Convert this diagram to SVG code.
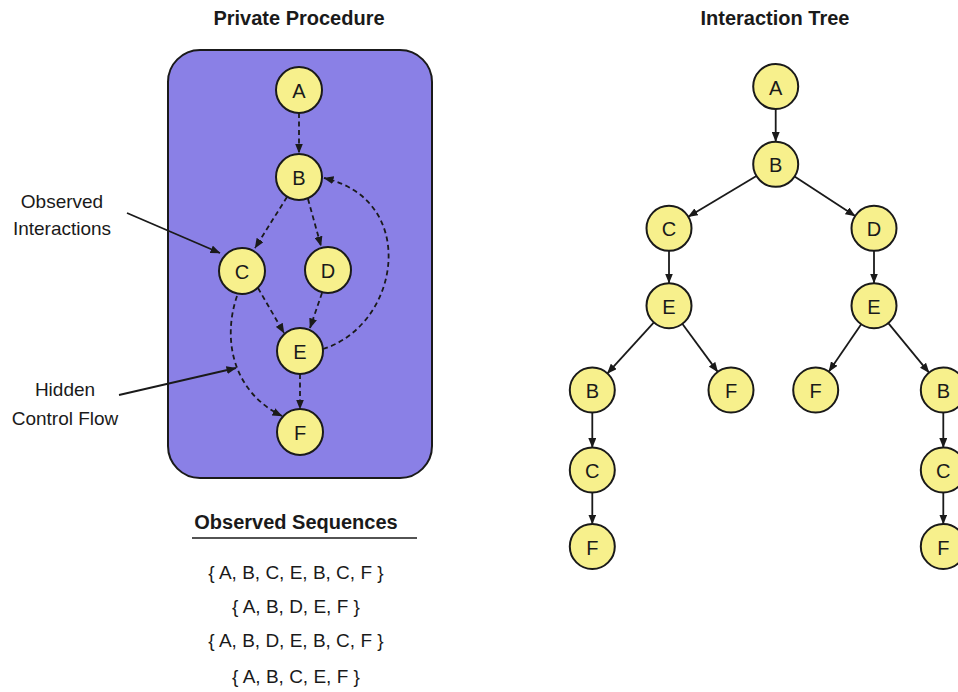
<svg xmlns="http://www.w3.org/2000/svg" width="958" height="692" viewBox="0 0 958 692">
  <style>
    text { font-family: "Liberation Sans", Arial, sans-serif; fill: #1a1a1a; }
    .title { font-size: 20px; font-weight: bold; text-anchor: middle; }
    .label { font-size: 19px; text-anchor: middle; }
    .seq { font-size: 19px; text-anchor: middle; }
    .node circle { fill: #f7f08c; stroke: #1a1a1a; stroke-width: 2; }
    .node text { font-size: 20px; text-anchor: middle; dominant-baseline: central; }
    .dash { fill: none; stroke: #1a1a1a; stroke-width: 1.8; stroke-dasharray: 5 3.5; marker-end: url(#arrow); }
    .solid { fill: none; stroke: #1a1a1a; stroke-width: 1.8; marker-end: url(#arrow); }
  </style>
  <defs>
    <marker id="arrow" viewBox="0 0 10 8" refX="9.5" refY="4" markerWidth="10" markerHeight="8" markerUnits="userSpaceOnUse" orient="auto">
      <path d="M0,0 L10,4 L0,8 Z" fill="#1a1a1a"/>
    </marker>
  </defs>

  <rect width="958" height="692" fill="#ffffff"/>

  <!-- Titles -->
  <text class="title" x="299" y="25">Private Procedure</text>
  <text class="title" x="775" y="25">Interaction Tree</text>

  <!-- Procedure box -->
  <rect id="procedure-box" x="168" y="50" width="264" height="428" rx="32" ry="32" fill="#8a80e6" stroke="#1a1a1a" stroke-width="2"/>

  <!-- Connectors -->
  <g id="connectors">
    <!-- procedure graph (dashed) -->
    <path class="dash" d="M299,113 L299,153"/>
    <path class="dash" d="M287,197 L255,248"/>
    <path class="dash" d="M308,199 L321,246"/>
    <path class="dash" d="M258,288 L284,333"/>
    <path class="dash" d="M322,293 L310,328"/>
    <path class="dash" d="M300,374 L300,409"/>
    <path class="dash" d="M323,349 C400,325 420,200 324,178"/>
    <path class="dash" d="M237,296 C222,340 233,392 282,416"/>
    <!-- annotation pointers -->
    <path class="solid" d="M127,213 L220,253"/>
    <path class="solid" d="M119,395 L236,368"/>
    <!-- interaction tree -->
    <path class="solid" d="M775.7,109 L775.7,141.5"/>
    <path class="solid" d="M756.4,175.9 L688.3,216.7"/>
    <path class="solid" d="M794.6,176.6 L855.1,216"/>
    <path class="solid" d="M669,251 L669,283"/>
    <path class="solid" d="M874,251 L874,283"/>
    <path class="solid" d="M653.9,322.3 L607.4,373.4"/>
    <path class="solid" d="M682.3,323.8 L717.7,371.9"/>
    <path class="solid" d="M861.2,324.2 L828.9,371.5"/>
    <path class="solid" d="M888.3,323.1 L929,372.6"/>
    <path class="solid" d="M592.3,412.5 L592.3,447.5"/>
    <path class="solid" d="M592.3,492.5 L592.3,524"/>
    <path class="solid" d="M943.3,412.5 L943.3,447.5"/>
    <path class="solid" d="M943.3,492.5 L943.3,524"/>
  </g>

  <!-- Procedure nodes -->
  <g id="p-A" class="node"><circle cx="299" cy="90" r="23"/><text x="299" y="91">A</text></g>
  <g id="p-B" class="node"><circle cx="299" cy="177" r="23"/><text x="299" y="178">B</text></g>
  <g id="p-C" class="node"><circle cx="242" cy="271" r="23"/><text x="242" y="272">C</text></g>
  <g id="p-D" class="node"><circle cx="328" cy="270" r="23"/><text x="328" y="271">D</text></g>
  <g id="p-E" class="node"><circle cx="300" cy="351" r="23"/><text x="300" y="352">E</text></g>
  <g id="p-F" class="node"><circle cx="300" cy="432" r="23"/><text x="300" y="433">F</text></g>

  <!-- Annotation labels -->
  <text class="label" x="62" y="208">Observed</text>
  <text class="label" x="62" y="235">Interactions</text>
  <text class="label" x="65" y="396">Hidden</text>
  <text class="label" x="65" y="425">Control Flow</text>

  <!-- Observed sequences -->
  <text class="title" x="296" y="529">Observed Sequences</text>
  <line x1="192" y1="538" x2="417" y2="538" stroke="#1a1a1a" stroke-width="1.5"/>
  <text class="seq" x="296" y="579">{ A, B, C, E, B, C, F }</text>
  <text class="seq" x="296" y="613">{ A, B, D, E, F }</text>
  <text class="seq" x="296" y="647">{ A, B, D, E, B, C, F }</text>
  <text class="seq" x="296" y="683">{ A, B, C, E, F }</text>

  <!-- Interaction tree nodes -->
  <g id="t-A" class="node"><circle cx="775.7" cy="86.5" r="22.5"/><text x="775.7" y="87.5">A</text></g>
  <g id="t-B" class="node"><circle cx="775.7" cy="164.3" r="22.5"/><text x="775.7" y="165.3">B</text></g>
  <g id="t-C" class="node"><circle cx="669" cy="228.3" r="22.5"/><text x="669" y="229.3">C</text></g>
  <g id="t-D" class="node"><circle cx="874" cy="228.3" r="22.5"/><text x="874" y="229.3">D</text></g>
  <g id="t-CE" class="node"><circle cx="669" cy="305.7" r="22.5"/><text x="669" y="306.7">E</text></g>
  <g id="t-DE" class="node"><circle cx="874" cy="305.7" r="22.5"/><text x="874" y="306.7">E</text></g>
  <g id="t-CEB" class="node"><circle cx="592.3" cy="390" r="22.5"/><text x="592.3" y="391">B</text></g>
  <g id="t-CEF" class="node"><circle cx="731" cy="390" r="22.5"/><text x="731" y="391">F</text></g>
  <g id="t-DEF" class="node"><circle cx="815.7" cy="390" r="22.5"/><text x="815.7" y="391">F</text></g>
  <g id="t-DEB" class="node"><circle cx="943.3" cy="390" r="22.5"/><text x="943.3" y="391">B</text></g>
  <g id="t-CEBC" class="node"><circle cx="592.3" cy="470" r="22.5"/><text x="592.3" y="471">C</text></g>
  <g id="t-DEBC" class="node"><circle cx="943.3" cy="470" r="22.5"/><text x="943.3" y="471">C</text></g>
  <g id="t-CEBCF" class="node"><circle cx="592.3" cy="546.5" r="22.5"/><text x="592.3" y="547.5">F</text></g>
  <g id="t-DEBCF" class="node"><circle cx="943.3" cy="546.5" r="22.5"/><text x="943.3" y="547.5">F</text></g>
</svg>
